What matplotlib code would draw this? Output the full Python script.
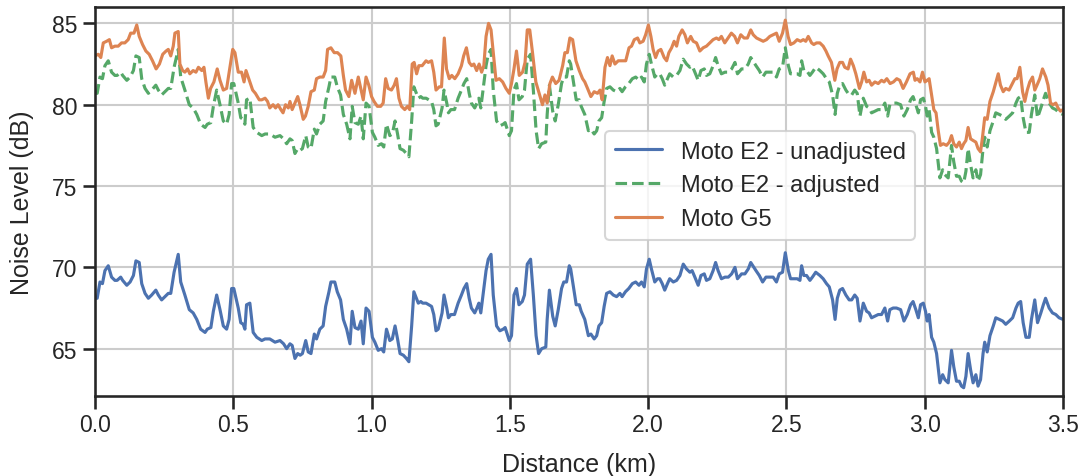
import matplotlib
matplotlib.use("Agg")
import matplotlib.pyplot as plt
import seaborn as sns

# Moto E2 track: distance (km), unadjusted and adjusted readings (dB)
dist_e2 = [
    0.000, 0.008, 0.018, 0.027, 0.036, 0.048, 0.060, 0.072, 0.080, 0.093,
    0.100, 0.115, 0.127, 0.139, 0.148, 0.160, 0.169, 0.181, 0.193, 0.205,
    0.220, 0.229, 0.241, 0.253, 0.265, 0.274, 0.286, 0.301, 0.310, 0.325,
    0.341, 0.355, 0.368, 0.382, 0.398, 0.406, 0.419, 0.428, 0.440, 0.452,
    0.464, 0.476, 0.485, 0.494, 0.502, 0.518, 0.527, 0.536, 0.542, 0.548,
    0.560, 0.572, 0.585, 0.603, 0.615, 0.632, 0.651, 0.669, 0.682, 0.693,
    0.705, 0.713, 0.723, 0.733, 0.742, 0.750, 0.762, 0.771, 0.781, 0.793,
    0.801, 0.813, 0.825, 0.834, 0.846, 0.853, 0.867, 0.876, 0.888, 0.898,
    0.910, 0.922, 0.930, 0.940, 0.952, 0.962, 0.970, 0.980, 0.991, 1.003,
    1.012, 1.024, 1.036, 1.044, 1.054, 1.066, 1.075, 1.085, 1.094, 1.103,
    1.115, 1.126, 1.135, 1.145, 1.153, 1.169, 1.178, 1.185, 1.197, 1.217,
    1.225, 1.233, 1.241, 1.255, 1.262, 1.272, 1.278, 1.287, 1.300, 1.313,
    1.325, 1.334, 1.344, 1.353, 1.361, 1.373, 1.381, 1.388, 1.395, 1.414,
    1.422, 1.432, 1.440, 1.452, 1.464, 1.476, 1.483, 1.498, 1.506, 1.515,
    1.524, 1.533, 1.545, 1.553, 1.563, 1.575, 1.585, 1.595, 1.604, 1.615,
    1.630, 1.635, 1.643, 1.655, 1.664, 1.675, 1.687, 1.695, 1.705, 1.715,
    1.720, 1.731, 1.740, 1.751, 1.758, 1.771, 1.784, 1.793, 1.805, 1.814,
    1.822, 1.832, 1.841, 1.850, 1.862, 1.874, 1.886, 1.898, 1.906, 1.918,
    1.930, 1.943, 1.955, 1.967, 1.976, 1.986, 1.994, 2.004, 2.012, 2.024,
    2.034, 2.042, 2.051, 2.060, 2.070, 2.078, 2.091, 2.103, 2.115, 2.127,
    2.139, 2.151, 2.159, 2.169, 2.181, 2.191, 2.203, 2.211, 2.223, 2.235,
    2.244, 2.253, 2.265, 2.278, 2.290, 2.302, 2.314, 2.323, 2.338, 2.350,
    2.362, 2.371, 2.390, 2.402, 2.414, 2.426, 2.438, 2.452, 2.464, 2.474,
    2.486, 2.496, 2.507, 2.515, 2.527, 2.539, 2.549, 2.555, 2.563, 2.573,
    2.585, 2.594, 2.606, 2.621, 2.633, 2.645, 2.655, 2.667, 2.676, 2.684,
    2.693, 2.703, 2.715, 2.727, 2.736, 2.747, 2.756, 2.766, 2.778, 2.790,
    2.799, 2.808, 2.820, 2.832, 2.844, 2.856, 2.866, 2.874, 2.886, 2.898,
    2.913, 2.925, 2.937, 2.949, 2.958, 2.968, 2.977, 2.985, 2.995, 3.003,
    3.009, 3.016, 3.025, 3.033, 3.043, 3.049, 3.055, 3.065, 3.073, 3.085,
    3.097, 3.105, 3.115, 3.125, 3.133, 3.141, 3.149, 3.157, 3.166, 3.175,
    3.185, 3.193, 3.202, 3.211, 3.217, 3.226, 3.236, 3.248, 3.257, 3.270,
    3.282, 3.293, 3.306, 3.318, 3.330, 3.338, 3.347, 3.356, 3.366, 3.378,
    3.386, 3.398, 3.408, 3.420, 3.429, 3.437, 3.450, 3.462, 3.474, 3.486,
    3.500,
]
e2_unadjusted = [
    68.1, 68.1, 69.1, 69.0, 69.8, 70.1, 69.4, 69.2, 69.2, 69.4,
    69.2, 68.9, 69.1, 69.5, 70.4, 70.3, 69.0, 68.4, 68.1, 68.3,
    68.6, 68.3, 68.0, 68.2, 68.4, 68.4, 69.7, 70.8, 69.1, 68.3,
    67.4, 67.2, 66.8, 66.2, 66.0, 66.2, 66.3, 67.3, 68.3, 67.4,
    66.4, 66.2, 66.8, 68.7, 68.7, 67.5, 66.6, 66.5, 66.2, 67.7,
    67.8, 66.0, 65.7, 65.5, 65.6, 65.6, 65.4, 65.5, 65.3, 65.0,
    65.3, 65.2, 64.4, 64.7, 64.6, 64.7, 65.5, 64.8, 64.7, 65.9,
    65.6, 66.2, 66.4, 67.6, 68.5, 69.1, 69.1, 68.5, 68.0, 66.8,
    66.2, 65.3, 67.3, 66.3, 66.2, 66.7, 65.3, 67.5, 67.3, 65.7,
    65.4, 64.9, 65.0, 64.8, 66.2, 65.5, 65.6, 66.4, 65.6, 64.7,
    64.6, 64.4, 64.2, 66.4, 68.5, 67.8, 67.9, 67.8, 67.8, 67.6,
    67.1, 66.1, 66.2, 67.2, 68.3, 67.5, 66.9, 67.1, 67.1, 67.8,
    68.3, 68.7, 69.0, 68.1, 67.5, 67.2, 67.5, 67.8, 67.2, 69.8,
    70.5, 70.8, 68.3, 66.4, 66.1, 66.2, 66.3, 65.5, 65.8, 68.3,
    68.7, 67.7, 67.9, 68.3, 70.2, 70.5, 68.3, 65.8, 64.7, 65.0,
    65.1, 66.8, 68.6, 67.0, 66.4, 67.4, 68.7, 69.1, 69.1, 70.1,
    69.9, 68.7, 67.7, 67.7, 67.3, 66.8, 65.8, 65.9, 65.6, 65.8,
    66.4, 66.6, 67.6, 68.4, 68.5, 68.3, 68.2, 68.4, 68.2, 68.5,
    68.7, 69.0, 69.1, 68.9, 69.1, 68.8, 69.9, 70.5, 69.9, 69.1,
    69.3, 69.3, 69.0, 68.6, 69.0, 69.3, 69.1, 69.2, 69.5, 70.2,
    69.9, 69.7, 69.8, 69.4, 68.9, 69.5, 69.6, 69.2, 69.3, 69.8,
    70.3, 69.8, 69.3, 69.4, 69.4, 69.6, 70.0, 69.3, 69.6, 69.6,
    69.9, 70.3, 69.8, 69.5, 69.1, 69.4, 69.4, 69.4, 69.1, 69.6,
    69.7, 70.9, 69.8, 69.3, 69.3, 69.3, 69.2, 70.1, 69.5, 69.5,
    69.2, 69.4, 69.7, 69.5, 69.3, 69.0, 68.8, 68.0, 66.8, 68.1,
    68.6, 68.7, 68.3, 68.0, 68.0, 68.3, 68.1, 66.7, 67.8, 67.3,
    67.2, 66.9, 67.0, 67.1, 67.1, 67.5, 66.7, 67.4, 67.5, 67.5,
    67.4, 66.7, 67.1, 67.7, 67.9, 67.4, 66.9, 67.7, 67.8, 67.3,
    66.7, 67.1, 65.7, 65.4, 64.7, 63.8, 62.9, 63.4, 63.1, 62.9,
    64.9, 63.9, 63.0, 63.0, 62.7, 62.6, 63.3, 64.7, 63.7, 62.9,
    63.4, 62.7, 63.1, 64.7, 65.4, 64.8, 65.8, 66.4, 66.9, 66.8,
    66.7, 66.5, 66.7, 66.9, 67.5, 67.8, 67.9, 66.6, 65.7, 65.7,
    66.8, 68.0, 66.6, 67.2, 67.7, 68.1, 67.5, 67.2, 67.1, 66.9,
    66.8,
]
e2_adjusted = [
    80.7, 80.7, 81.7, 81.6, 82.4, 82.7, 82.0, 81.8, 81.8, 82.0,
    81.8, 81.5, 81.7, 82.1, 83.0, 82.9, 81.6, 81.0, 80.7, 80.9,
    81.2, 80.9, 80.6, 80.8, 81.0, 81.0, 82.3, 83.4, 81.7, 80.9,
    80.0, 79.8, 79.4, 78.8, 78.6, 78.8, 78.9, 79.9, 80.9, 80.0,
    79.0, 78.8, 79.4, 81.3, 81.3, 80.1, 79.2, 79.1, 78.8, 80.3,
    80.4, 78.6, 78.3, 78.1, 78.2, 78.2, 78.0, 78.1, 77.9, 77.6,
    77.9, 77.8, 77.0, 77.3, 77.2, 77.3, 78.1, 77.4, 77.3, 78.5,
    78.2, 78.8, 79.0, 80.2, 81.1, 81.7, 81.7, 81.1, 80.6, 79.4,
    78.8, 77.9, 79.9, 78.9, 78.8, 79.3, 77.9, 80.1, 79.9, 78.3,
    78.0, 77.5, 77.6, 77.4, 78.8, 78.1, 78.2, 79.0, 78.2, 77.3,
    77.2, 77.0, 76.8, 79.0, 81.1, 80.4, 80.5, 80.4, 80.4, 80.2,
    79.7, 78.7, 78.8, 79.8, 80.9, 80.1, 79.5, 79.7, 79.7, 80.4,
    80.9, 81.3, 81.6, 80.7, 80.1, 79.8, 80.1, 80.4, 79.8, 82.4,
    83.1, 83.4, 80.9, 79.0, 78.7, 78.8, 78.9, 78.1, 78.4, 80.9,
    81.3, 80.3, 80.5, 80.9, 82.8, 83.1, 80.9, 78.4, 77.3, 77.6,
    77.7, 79.4, 81.2, 79.6, 79.0, 80.0, 81.3, 81.7, 81.7, 82.7,
    82.5, 81.3, 80.3, 80.3, 79.9, 79.4, 78.4, 78.5, 78.2, 78.4,
    79.0, 79.2, 80.2, 81.0, 81.1, 80.9, 80.8, 81.0, 80.8, 81.1,
    81.3, 81.6, 81.7, 81.5, 81.7, 81.4, 82.5, 83.1, 82.5, 81.7,
    81.9, 81.9, 81.6, 81.2, 81.6, 81.9, 81.7, 81.8, 82.1, 82.8,
    82.5, 82.3, 82.4, 82.0, 81.5, 82.1, 82.2, 81.8, 81.9, 82.4,
    82.9, 82.4, 81.9, 82.0, 82.0, 82.2, 82.6, 81.9, 82.2, 82.2,
    82.5, 82.9, 82.4, 82.1, 81.7, 82.0, 82.0, 82.0, 81.7, 82.2,
    82.3, 83.5, 82.4, 81.9, 81.9, 81.9, 81.8, 82.7, 82.1, 82.1,
    81.8, 82.0, 82.3, 82.1, 81.9, 81.6, 81.4, 80.6, 79.4, 80.7,
    81.2, 81.3, 80.9, 80.6, 80.6, 80.9, 80.7, 79.3, 80.4, 79.9,
    79.8, 79.5, 79.6, 79.7, 79.7, 80.1, 79.3, 80.0, 80.1, 80.1,
    80.0, 79.3, 79.7, 80.3, 80.5, 80.0, 79.5, 80.3, 80.4, 79.9,
    79.3, 79.7, 78.3, 78.0, 77.3, 76.4, 75.5, 76.0, 75.7, 75.5,
    77.5, 76.5, 75.6, 75.6, 75.3, 75.2, 75.9, 77.3, 76.3, 75.5,
    76.0, 75.3, 75.7, 77.3, 78.0, 77.4, 78.4, 79.0, 79.5, 79.4,
    79.3, 79.1, 79.3, 79.5, 80.1, 80.4, 80.5, 79.2, 78.3, 78.3,
    79.4, 80.6, 79.2, 79.8, 80.3, 80.7, 80.1, 79.8, 79.7, 79.5,
    79.4,
]

# Moto G5 track
dist_g5 = [
    0.000, 0.012, 0.021, 0.030, 0.042, 0.052, 0.060, 0.072, 0.084, 0.096,
    0.108, 0.120, 0.129, 0.141, 0.151, 0.160, 0.172, 0.184, 0.196, 0.208,
    0.221, 0.233, 0.245, 0.257, 0.265, 0.274, 0.283, 0.289, 0.301, 0.307,
    0.317, 0.325, 0.335, 0.343, 0.355, 0.365, 0.374, 0.386, 0.394, 0.401,
    0.410, 0.418, 0.430, 0.442, 0.452, 0.464, 0.476, 0.488, 0.498, 0.506,
    0.518, 0.530, 0.539, 0.546, 0.558, 0.570, 0.580, 0.594, 0.603, 0.615,
    0.624, 0.632, 0.644, 0.653, 0.662, 0.672, 0.680, 0.689, 0.699, 0.705,
    0.713, 0.723, 0.733, 0.741, 0.753, 0.761, 0.771, 0.781, 0.793, 0.801,
    0.813, 0.825, 0.834, 0.841, 0.853, 0.865, 0.877, 0.889, 0.898, 0.906,
    0.918, 0.928, 0.940, 0.952, 0.961, 0.970, 0.980, 0.990, 1.000, 1.009,
    1.021, 1.033, 1.042, 1.051, 1.060, 1.072, 1.082, 1.090, 1.099, 1.108,
    1.120, 1.130, 1.138, 1.147, 1.154, 1.163, 1.171, 1.183, 1.197, 1.205,
    1.217, 1.225, 1.233, 1.245, 1.253, 1.263, 1.271, 1.281, 1.290, 1.301,
    1.313, 1.325, 1.333, 1.343, 1.353, 1.362, 1.370, 1.380, 1.389, 1.398,
    1.406, 1.414, 1.423, 1.432, 1.440, 1.450, 1.462, 1.474, 1.486, 1.498,
    1.506, 1.515, 1.524, 1.534, 1.546, 1.555, 1.563, 1.572, 1.582, 1.594,
    1.606, 1.618, 1.627, 1.635, 1.645, 1.654, 1.666, 1.678, 1.691, 1.699,
    1.708, 1.717, 1.727, 1.739, 1.751, 1.763, 1.771, 1.781, 1.793, 1.805,
    1.817, 1.826, 1.834, 1.844, 1.853, 1.862, 1.870, 1.880, 1.892, 1.904,
    1.919, 1.931, 1.940, 1.950, 1.962, 1.970, 1.982, 1.991, 2.001, 2.010,
    2.018, 2.027, 2.036, 2.046, 2.058, 2.067, 2.075, 2.085, 2.094, 2.103,
    2.111, 2.123, 2.133, 2.142, 2.154, 2.163, 2.175, 2.187, 2.199, 2.211,
    2.223, 2.235, 2.247, 2.256, 2.265, 2.277, 2.289, 2.301, 2.313, 2.323,
    2.335, 2.347, 2.359, 2.371, 2.380, 2.392, 2.404, 2.416, 2.428, 2.440,
    2.452, 2.464, 2.474, 2.486, 2.496, 2.506, 2.515, 2.527, 2.539, 2.551,
    2.561, 2.570, 2.579, 2.591, 2.599, 2.609, 2.621, 2.633, 2.643, 2.651,
    2.663, 2.675, 2.683, 2.693, 2.703, 2.711, 2.723, 2.732, 2.742, 2.751,
    2.764, 2.772, 2.780, 2.790, 2.799, 2.808, 2.820, 2.832, 2.844, 2.853,
    2.863, 2.875, 2.887, 2.899, 2.910, 2.922, 2.934, 2.947, 2.959, 2.965,
    2.973, 2.983, 2.992, 3.001, 3.009, 3.016, 3.025, 3.033, 3.041, 3.049,
    3.057, 3.067, 3.079, 3.089, 3.097, 3.105, 3.115, 3.125, 3.133, 3.141,
    3.149, 3.157, 3.166, 3.175, 3.185, 3.193, 3.202, 3.209, 3.217, 3.226,
    3.236, 3.248, 3.258, 3.266, 3.274, 3.284, 3.293, 3.305, 3.314, 3.326,
    3.334, 3.344, 3.354, 3.362, 3.371, 3.380, 3.390, 3.398, 3.406, 3.416,
    3.426, 3.438, 3.446, 3.455, 3.464, 3.474, 3.482, 3.491, 3.500,
]
g5 = [
    83.0, 83.1, 82.9, 83.8, 83.9, 84.0, 83.5, 83.6, 83.6, 83.8,
    83.8, 84.0, 84.4, 84.4, 84.9, 84.2, 83.7, 83.3, 83.1, 82.7,
    82.2, 82.5, 83.1, 83.3, 83.4, 83.0, 83.6, 84.4, 84.5, 82.5,
    82.1, 82.0, 82.2, 81.9, 82.1, 82.0, 82.3, 82.1, 82.3, 81.4,
    80.4, 81.0, 81.4, 82.2, 81.5, 80.9, 81.0, 82.3, 83.4, 83.2,
    82.0, 82.0, 81.4, 82.1, 81.5, 80.9, 80.7, 80.3, 80.3, 80.4,
    80.2, 79.8, 80.0, 79.8, 80.0, 79.7, 79.5, 80.0, 79.8, 80.2,
    79.7, 80.1, 80.5, 80.0, 79.1, 79.3, 79.9, 80.8, 80.9, 81.6,
    81.7, 81.7, 82.1, 83.4, 83.5, 83.2, 83.2, 83.0, 81.8, 80.9,
    80.5, 81.5, 80.7, 81.7, 81.0, 80.3, 81.7, 81.2, 80.5, 80.2,
    79.9, 79.9, 80.1, 81.6, 81.0, 80.9, 81.2, 81.6, 80.4, 79.9,
    79.7, 79.9, 79.7, 82.5, 82.6, 81.9, 82.4, 82.4, 82.7, 82.6,
    82.7, 82.0, 80.9, 81.1, 81.1, 84.1, 82.2, 81.6, 81.8, 81.6,
    81.9, 82.4, 83.0, 83.5, 82.6, 82.4, 82.5, 82.1, 82.5, 82.0,
    82.4, 84.2, 85.0, 84.6, 83.2, 81.5, 81.6, 81.4, 81.0, 80.7,
    81.3, 82.2, 83.3, 81.8, 82.0, 82.6, 84.6, 84.6, 83.2, 81.4,
    80.7, 80.0, 80.6, 80.1, 81.3, 81.7, 81.3, 81.5, 82.4, 83.2,
    83.2, 84.1, 84.0, 82.7, 82.1, 81.6, 81.4, 81.0, 80.5, 80.8,
    80.7, 80.9, 80.3, 82.3, 82.9, 82.4, 83.0, 82.5, 82.7, 82.7,
    82.7, 83.5, 83.6, 84.0, 84.1, 83.8, 83.9, 84.3, 84.9, 84.2,
    83.4, 82.9, 83.3, 83.4, 82.9, 82.7, 83.2, 83.5, 83.9, 83.6,
    84.2, 84.6, 84.3, 83.8, 84.2, 83.9, 83.8, 83.3, 83.5, 83.6,
    83.8, 84.0, 84.1, 84.0, 84.2, 83.8, 84.1, 84.4, 84.2, 83.8,
    84.3, 84.1, 84.1, 84.6, 84.3, 84.1, 84.0, 83.9, 84.0, 84.2,
    84.3, 84.4, 83.9, 84.4, 85.2, 84.2, 83.7, 83.8, 84.0, 83.9,
    84.0, 83.9, 84.2, 83.8, 83.7, 83.8, 83.8, 83.6, 83.3, 83.0,
    82.6, 81.5, 82.2, 82.6, 82.6, 82.3, 82.2, 82.8, 82.4, 81.9,
    81.0, 81.4, 82.0, 81.4, 81.5, 81.2, 81.4, 81.3, 81.5, 81.4,
    81.6, 81.3, 81.4, 81.6, 81.5, 81.0, 81.4, 81.9, 82.0, 81.5,
    81.6, 81.4, 82.0, 81.4, 81.5, 81.6, 80.6, 79.7, 79.5, 78.4,
    77.5, 77.6, 77.5, 77.7, 78.1, 77.6, 77.4, 77.7, 77.3, 77.6,
    77.8, 78.6, 77.9, 77.8, 77.7, 77.3, 77.1, 78.0, 79.2, 79.1,
    80.2, 80.8, 81.4, 81.9, 81.2, 80.8, 81.0, 80.9, 81.2, 81.6,
    81.6, 82.3, 80.8, 80.2, 80.9, 81.4, 81.7, 80.9, 81.2, 81.6,
    82.2, 81.7, 81.2, 80.1, 80.0, 80.1, 79.8, 79.6, 79.7,
]

sns.set_theme(context="talk", style="ticks")
plt.rcParams["font.family"] = ["Liberation Sans", "DejaVu Sans"]

fig, ax = plt.subplots(figsize=(10.88, 4.77), dpi=100)
fig.subplots_adjust(left=0.0873, right=0.977, top=0.983, bottom=0.168)

pal = sns.color_palette("deep")
ax.plot(dist_e2, e2_unadjusted, color=pal[0], lw=2.25, label="Moto E2 - unadjusted")
ax.plot(dist_e2, e2_adjusted, color=pal[2], lw=2.25, ls="--", label="Moto E2 - adjusted")
ax.plot(dist_g5, g5, color=pal[1], lw=2.25, label="Moto G5")

ax.set_xlim(0, 3.5)
ax.set_ylim(62.1, 86.0)
ax.set_yticks([65, 70, 75, 80, 85])
ax.grid(True, color=".8", lw=1.5)
ax.set_xlabel("Distance (km)", labelpad=11)
ax.set_ylabel("Noise Level (dB)", labelpad=13)
ax.legend(loc="upper left", bbox_to_anchor=(0.527, 0.681), borderaxespad=0,
          fontsize=17)

fig.savefig("out.png", dpi=100)
